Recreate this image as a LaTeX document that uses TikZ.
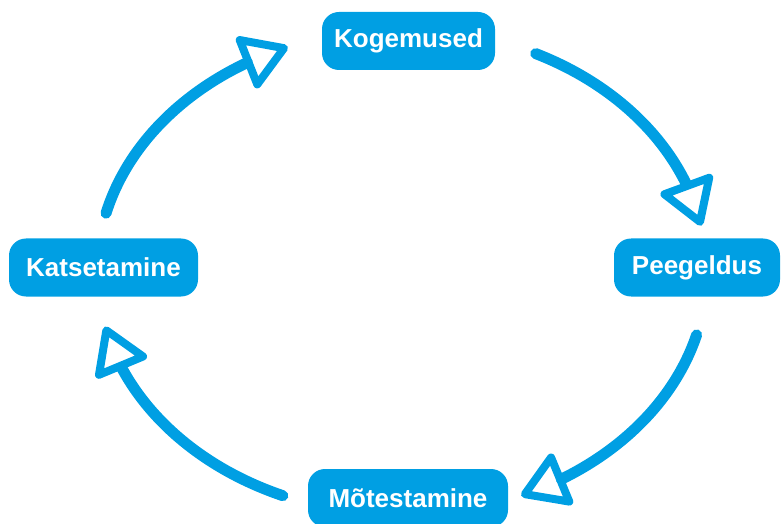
\documentclass[tikz,border=0pt]{standalone}
\usepackage{fontspec}
\setmainfont{Liberation Sans}
\usetikzlibrary{arrows.meta,bending}
\definecolor{cblue}{RGB}{0,159,227}
\begin{document}
\begin{tikzpicture}[x=1pt,y=1pt,
  box/.style={fill=cblue, text=white, rounded corners=17pt, minimum height=58pt, inner xsep=0pt,
    font=\fontsize{26}{30}\selectfont\bfseries},
  cycarrow/.style={draw=cblue, line width=11pt, line cap=round,
    -{Triangle[open,length=50pt,width=60pt,line width=8pt,round]}}]
\useasboundingbox (0,0) rectangle (782,523);
\clip (0,0) rectangle (782,523);
\node[box, minimum width=173pt] (kog) at (408.5,482) {Kogemused};
\node[box, minimum width=166pt] (pee) at (697,255.5) {Peegeldus};
\node[box, minimum width=189pt] (kat) at (103.5,255.5) {Katsetamine};
\node[box, minimum width=200pt] (mot) at (408,25) {Mõtestamine};
\coordinate (ctr) at (402,251);
\draw[cycarrow] (ctr) ++(64:305pt and 243pt) arc[start angle=64,end angle=11,x radius=305pt,y radius=243pt];
\draw[cycarrow] (ctr) ++(-15:305pt and 243pt) arc[start angle=-15,end angle=-67,x radius=305pt,y radius=243pt];
\draw[cycarrow] (ctr) ++(-113:305pt and 243pt) arc[start angle=-113,end angle=-167,x radius=305pt,y radius=243pt];
\draw[cycarrow] (ctr) ++(166:305pt and 243pt) arc[start angle=166,end angle=112,x radius=305pt,y radius=243pt];
\end{tikzpicture}
\end{document}
